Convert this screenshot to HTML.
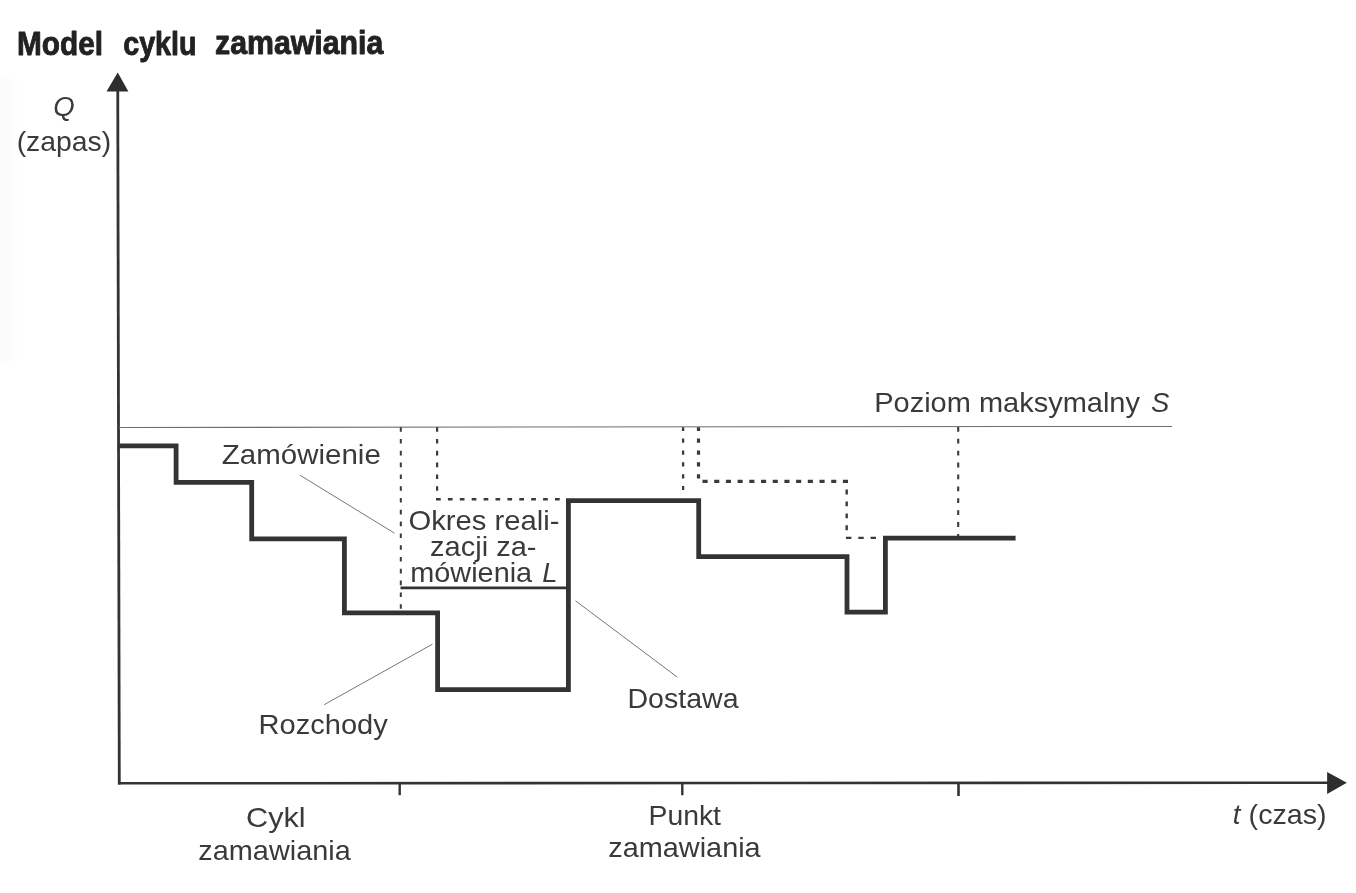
<!DOCTYPE html>
<html>
<head>
<meta charset="utf-8">
<title>Model cyklu zamawiania</title>
<style>
html,body{margin:0;padding:0;background:#fff;}
body{width:1356px;height:893px;overflow:hidden;font-family:"Liberation Sans",sans-serif;}
svg{display:block;position:absolute;left:0;top:0;filter:blur(0.55px);}
text{font-family:"Liberation Sans",sans-serif;fill:#3a3a3a;}
.t{font-size:27.5px;}
.i{font-style:italic;}
.h{font-size:33px;stroke:#222;stroke-width:0.9px;stroke-linejoin:round;font-weight:bold;fill:#222;}
</style>
</head>
<body>
<svg width="1356" height="893" viewBox="0 0 1356 893">
<defs><filter id="bl" x="-100%" y="-20%" width="300%" height="140%"><feGaussianBlur stdDeviation="6"/></filter></defs>
<rect x="0" y="0" width="1356" height="893" fill="#fff"/>
<!-- faint scan shadow -->
<rect x="-8" y="80" width="20" height="280" fill="#fafafa" filter="url(#bl)"/>

<!-- title -->
<text class="h" x="17" y="55" textLength="86" style="font-size:34px" lengthAdjust="spacingAndGlyphs">Model</text>
<text class="h" x="123.2" y="54.6" textLength="73.4" lengthAdjust="spacingAndGlyphs">cyklu</text>
<text class="h" x="215" y="54.2" textLength="168.3" lengthAdjust="spacingAndGlyphs">zamawiania</text>

<!-- axes -->
<g stroke="#333" fill="none">
<line x1="117.75" y1="88" x2="119.3" y2="784.6" stroke-width="2.8"/>
<line x1="118" y1="783.3" x2="1330" y2="782.7" stroke-width="2.6"/>
<line x1="399.7" y1="783" x2="399.7" y2="795.2" stroke-width="2.4"/>
<line x1="682.3" y1="783" x2="682.3" y2="795.2" stroke-width="2.4"/>
<line x1="958.5" y1="783" x2="958.5" y2="796" stroke-width="2.6"/>
</g>
<polygon points="117.7,72.4 106.5,91.6 128.4,91.6" fill="#2e2e2e"/>
<polygon points="1346.8,782.7 1327.1,771.9 1327.1,794.1" fill="#2e2e2e"/>

<!-- max level line -->
<line x1="119" y1="427.5" x2="1172" y2="426.4" stroke="#6e6e6e" stroke-width="1.05"/>

<!-- dashed lines -->
<g stroke="#3a3a3a" fill="none">
<line x1="400.8" y1="427.2" x2="400.8" y2="611" stroke-width="2" stroke-dasharray="4.6 7.2"/>
<line x1="437.1" y1="427.2" x2="437.1" y2="491" stroke-width="2.2" stroke-dasharray="4.6 7.2"/>
<line x1="436" y1="499.2" x2="560" y2="499.2" stroke-width="2.5" stroke-dasharray="4.7 7.2"/>
<line x1="683.1" y1="427.2" x2="683.1" y2="490" stroke-width="2.3" stroke-dasharray="4.3 7.6" stroke-dashoffset="0.6"/>
<line x1="698.5" y1="427.2" x2="698.5" y2="479" stroke-width="3.2" stroke-dasharray="4.3 7.6" stroke-dashoffset="0.6"/>
<line x1="702.5" y1="481.4" x2="849" y2="481.4" stroke-width="3.3" stroke-dasharray="5.1 6.6"/>
<line x1="846.7" y1="489.5" x2="846.7" y2="531" stroke-width="2.4" stroke-dasharray="4.9 7.05"/>
<line x1="846" y1="537.9" x2="877" y2="537.9" stroke-width="2.4" stroke-dasharray="5.4 6.9"/>
<line x1="958.2" y1="426.9" x2="958.2" y2="536" stroke-width="2.1" stroke-dasharray="4.8 7.1"/>
</g>

<!-- thick step line -->
<polyline fill="none" stroke="#333" stroke-width="4.8" stroke-linejoin="miter"
 points="118.5,445.8 176.1,445.8 176.1,482.3 251.7,482.3 251.7,538.9 344.4,538.9 344.4,612.9 437.6,612.9 437.6,689.6 568.4,689.6 568.4,500.7 698.7,500.7 698.7,556.7 847,556.7 847,612.2 885.4,612.2 885.4,538.2 1015.6,538.2"/>

<!-- L line -->
<line x1="400.5" y1="587.8" x2="569" y2="587.8" stroke="#333" stroke-width="2.8"/>

<!-- leader lines -->
<g stroke="#777" stroke-width="1" fill="none">
<line x1="300.1" y1="475.3" x2="394.4" y2="533.1"/>
<line x1="324.2" y1="704.7" x2="432.4" y2="644.2"/>
<line x1="575.5" y1="600.8" x2="677.4" y2="677.2"/>
</g>

<!-- labels -->
<text class="t i" x="53.3" y="116.2">Q</text>
<text class="t" x="16.7" y="150.5" textLength="94.5" lengthAdjust="spacingAndGlyphs">(zapas)</text>

<text class="t" x="874.2" y="411.8" textLength="265.8" lengthAdjust="spacingAndGlyphs">Poziom maksymalny</text>
<text class="t i" x="1151" y="411.8">S</text>

<text class="t" x="221.8" y="464.4" textLength="159" lengthAdjust="spacingAndGlyphs">Zamówienie</text>

<text class="t" x="408.5" y="529.6" textLength="151" lengthAdjust="spacingAndGlyphs">Okres reali-</text>
<text class="t" x="430" y="555.8" textLength="106.5" lengthAdjust="spacingAndGlyphs">zacji za-</text>
<text class="t" x="410.2" y="582" textLength="122" lengthAdjust="spacingAndGlyphs">mówienia</text>
<text class="t i" x="542.2" y="582.2">L</text>

<text class="t" x="258.6" y="733.6" textLength="129.2" lengthAdjust="spacingAndGlyphs">Rozchody</text>
<text class="t" x="627.5" y="708.4" textLength="111" lengthAdjust="spacingAndGlyphs">Dostawa</text>

<text class="t" x="246.1" y="826.6" textLength="59.5" lengthAdjust="spacingAndGlyphs">Cykl</text>
<text class="t" x="198.3" y="859.5" textLength="152.5" lengthAdjust="spacingAndGlyphs">zamawiania</text>
<text class="t" x="648.5" y="825.4" textLength="72.5" lengthAdjust="spacingAndGlyphs">Punkt</text>
<text class="t" x="608.2" y="857.4" textLength="152.5" lengthAdjust="spacingAndGlyphs">zamawiania</text>

<text class="t i" x="1232.8" y="824">t</text>
<text class="t" x="1248.6" y="824" textLength="78" lengthAdjust="spacingAndGlyphs">(czas)</text>
</svg>
</body>
</html>
